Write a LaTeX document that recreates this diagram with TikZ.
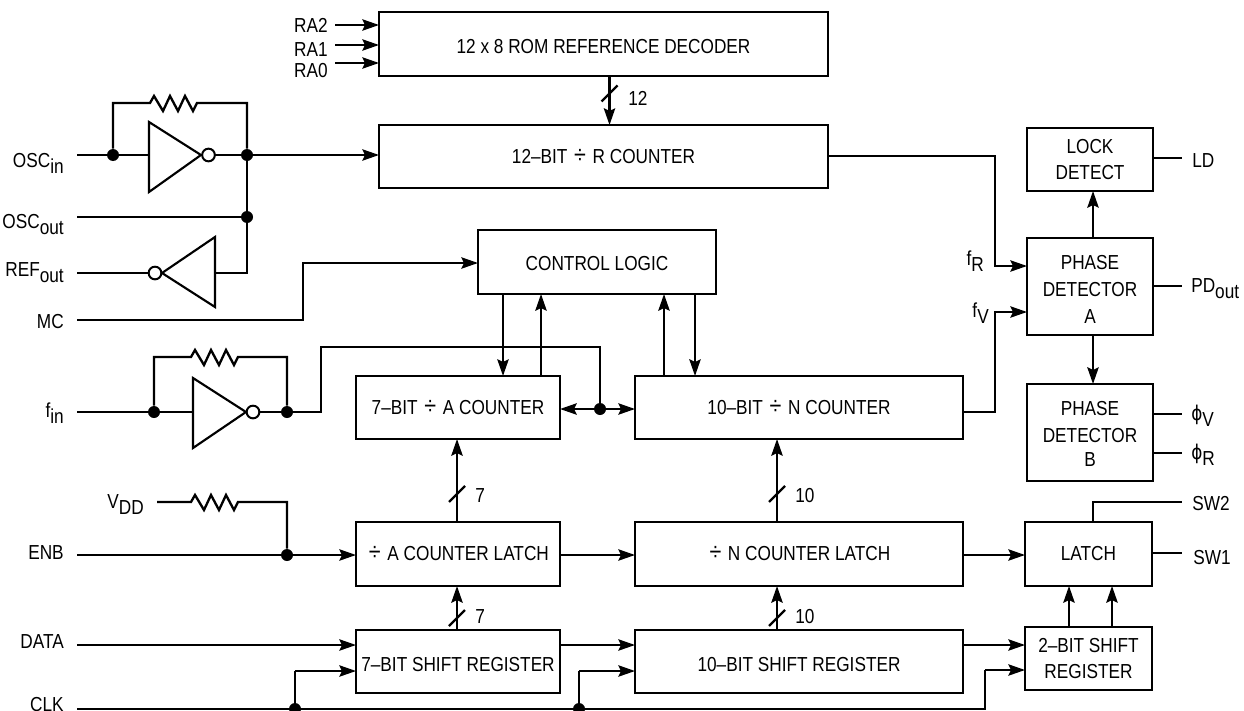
\documentclass[tikz,border=0pt]{standalone}
\usepackage{fontspec}
\setmainfont[FakeStretch=0.85]{Liberation Sans}
\newfontfamily\phifont[FakeStretch=0.83]{DejaVu Sans}
\usetikzlibrary{arrows.meta}
\newcommand\sbs[1]{\raisebox{-4.9pt}{#1}}
\newcommand\nd[2]{\raisebox{-#1}[\height][\depth]{#2}}
\newcommand\dv{\hspace{1.4pt}{\fontsize{19}{20}\selectfont ÷}\hspace{1.4pt}}
\newcommand\zig{-- ++(4,-7) -- ++(9,15) -- ++(7,-15) -- ++(8,15) -- ++(7,-15) -- ++(8,15) -- ++(4,-8)}
\newcommand\slashmark[1]{\draw[wire] ([shift={(-8,8)}]#1) -- ([shift={(8,-8)}]#1);}
\tikzset{
  x=0.75pt,y=-0.75pt,
  every node/.style={font=\fontsize{15.2}{20.2}\selectfont,text=black},
  wire/.style={line width=1.75pt,line join=miter,draw=black},
  tip/.tip={Stealth[length=12.5pt,width=8.5pt,inset=2pt]},
  arr/.style={wire,-tip},
  darr/.style={wire,tip-tip},
  blk/.style={draw=black,line width=1.9pt,inner sep=0pt,outer sep=0pt,align=center},
  dot/.style={circle,fill=black,draw=none,minimum size=9pt,inner sep=0pt},
  bub/.style={circle,fill=white,draw=black,line width=1.5pt,minimum size=9.5pt,inner sep=0pt,outer sep=0pt},
  inv/.style={line width=1.6pt,draw=black,line join=miter},
  lblr/.style={anchor=base east,inner sep=0pt,align=right},
  lbll/.style={anchor=base west,inner sep=0pt,align=left}
}
\newcommand\blk[6]{\node[blk,minimum width={(#4-#2)*0.75pt},minimum height={(#5-#3)*0.75pt}] (#1) at ({(#2+#4)/2},{(#3+#5)/2}) {#6};}
\begin{document}
\begin{tikzpicture}
\useasboundingbox (0,0) rectangle (1244,710);
% blocks
\blk{rom}{379}{12}{828}{76}{\nd{2pt}{12 x 8 ROM REFERENCE DECODER}}
\blk{rc}{379}{125}{828}{188}{12–BIT \dv{} R COUNTER}
\blk{ctl}{478}{230}{716}{294}{\nd{1.5pt}{CONTROL LOGIC}}
\blk{ac}{356}{376}{560}{439}{7–BIT \dv{} A COUNTER}
\blk{nc}{635}{376}{963}{439}{10–BIT \dv{} N COUNTER}
\blk{al}{356}{522}{560}{586}{\dv{} A COUNTER LATCH}
\blk{nl}{635}{522}{963}{586}{\dv{} N COUNTER LATCH}
\blk{as}{356}{630}{560}{693}{\nd{2pt}{7–BIT SHIFT REGISTER}}
\blk{ns}{635}{630}{963}{693}{\nd{2pt}{10–BIT SHIFT REGISTER}}
\blk{lock}{1027}{128}{1153}{191}{LOCK\\DETECT}
\blk{pa}{1027}{238}{1153}{335}{\nd{2pt}{PHASE}\\\nd{2pt}{DETECTOR}\\\nd{2pt}{A}}
\blk{pb}{1027}{384}{1153}{481}{\nd{2pt}{PHASE}\\\nd{2pt}{DETECTOR}\\B}
\blk{lat}{1025}{522}{1152}{586}{LATCH}
\blk{sr2}{1025}{627}{1152}{690}{2–BIT SHIFT\\REGISTER}
% left labels
\node[lblr] (lra2) at (328,33) {RA2};
\node[lblr] (lra1) at (328,57) {RA1};
\node[lblr] (lra0) at (328,77) {RA0};
\node[lblr] (losci) at (64,167) {OSC\sbs{in}};
\node[lblr] (losco) at (64,228) {OSC\sbs{out}};
\node[lblr] (lref) at (64,276) {REF\sbs{out}};
\node[lblr] (lmc) at (64,328) {MC};
\node[lblr] (lfin) at (64,417) {f\sbs{in}};
\node[lblr] (lvdd) at (144,508) {V\sbs{DD}};
\node[lblr] (lenb) at (64,559) {ENB};
\node[lblr] (ldata) at (64,648) {DATA};
\node[lblr] (lclk) at (64,711) {CLK};
% right labels
\node[lbll] (lld) at (1192,167) {LD};
\node[lbll] (lpd) at (1191,292) {PD\sbs{out}};
\node[lbll] (lpv) at (1191,420) {{\phifont ϕ}\sbs{V}};
\node[lbll] (lpr) at (1191,459) {{\phifont ϕ}\sbs{R}};
\node[lbll] (lsw2) at (1192,510) {SW2};
\node[lbll] (lsw1) at (1193,564) {SW1};
\node[lblr] (lfr) at (984,265) {f\sbs{R}};
\node[lblr] (lfv) at (989,317) {f\sbs{V}};
\node[lbll] (l12) at (628,105) {12};
\node[lbll] (l7a) at (475,502) {7};
\node[lbll] (l10a) at (795,502) {10};
\node[lbll] (l7b) at (475,623) {7};
\node[lbll] (l10b) at (795,623) {10};
% free ends
\coordinate (ra2) at (335,25);
\coordinate (ra1) at (335,45);
\coordinate (ra0) at (335,63);
\coordinate (osci) at (77,155);
\coordinate (osco) at (77,217);
\coordinate (ref) at (77,273);
\coordinate (mc) at (77,320);
\coordinate (fin) at (77,412);
\coordinate (enb) at (77,555);
\coordinate (data) at (77,645);
\coordinate (clk) at (77,709);
\coordinate (vdd) at (157,502);
\coordinate (ld) at (1182,158);
\coordinate (pd) at (1182,286);
\coordinate (pv) at (1182,414);
\coordinate (pr) at (1182,453);
\coordinate (sw2) at (1182,502);
\coordinate (sw1) at (1182,553);
% junctions
\node[dot] (j1) at (113,155) {};
\node[dot] (j2) at (247,155) {};
\node[dot] (j3) at (247,217) {};
\node[dot] (j4) at (154,412) {};
\node[dot] (j5) at (287,412) {};
\node[dot] (j6) at (600,409) {};
\node[dot] (j7) at (287,555) {};
\node[dot] (j8) at (295,709) {};
\node[dot] (j9) at (579,709) {};
% inverters
\coordinate (i1) at (149,155);
\draw[inv] (i1) -- (149,122) -- (201,155) -- (149,192) -- cycle;
\node[bub] (b1) at (208.5,155) {};
\coordinate (i2) at (215,273);
\draw[inv] (i2) -- (215,237) -- (162,273) -- (215,307) -- cycle;
\node[bub] (b2) at (155,273) {};
\coordinate (i3) at (193,412);
\draw[inv] (i3) -- (193,378) -- (246,412) -- (193,448) -- cycle;
\node[bub] (b3) at (253,412) {};
% wires: inputs
\draw[arr] (ra2) -- (ra2 -| rom.west);
\draw[arr] (ra1) -- (ra1 -| rom.west);
\draw[arr] (ra0) -- (ra0 -| rom.west);
\draw[wire] (osci) -- (i1);
\draw[wire] (b1) -- (j2);
\draw[arr] (j2) -- (j2 -| rc.west);
\draw[wire] (j1) -- (113,103) -- (150,103) \zig -- (247,103) -- (j2);
\draw[wire] (j2) -- (247,273) -- (i2);
\draw[wire] (osco) -- (j3);
\draw[wire] (ref) -- (b2);
\draw[arr] (mc) -| (303,263) -- (303,263 -| ctl.west);
\draw[wire] (fin) -- (i3);
\draw[wire] (b3) -- (j5);
\draw[wire] (j4) -- (154,357) -- (191,357) \zig -- (287,357) -- (j5);
\draw[wire] (j5) -- (321,412) -- (321,347) -- (600,347) -- (j6);
\draw[darr] (j6 -| ac.east) -- (j6 -| nc.west);
\draw[wire] (vdd) -- (191,502) \zig -- (287,502) -- (j7);
\draw[arr] (enb) -- (enb -| al.west);
\draw[arr] (data) -- (data -| as.west);
\draw[wire] (clk) -- (985,709) -- (985,670);
\draw[arr] (985,670) -- (985,670 -| sr2.west);
\draw[wire] (j8) -- (295,671);
\draw[arr] (295,671) -- (295,671 -| as.west);
\draw[wire] (j9) -- (579,671);
\draw[arr] (579,671) -- (579,671 -| ns.west);
% wires: between blocks
\coordinate (p12) at (609.5,93.5);
\draw[arr] (p12 |- rom.south) -- (p12 |- rc.north);
\slashmark{p12}
\draw[arr] (503,294) -- (503,376);
\draw[arr] (541,376) -- (541,294);
\draw[arr] (664,376) -- (664,294);
\draw[arr] (695,294) -- (695,376);
\coordinate (p7a) at (457,494);
\coordinate (p10a) at (777,494);
\coordinate (p7b) at (457,618);
\coordinate (p10b) at (777,618);
\draw[arr] (p7a |- al.north) -- (p7a |- ac.south);
\slashmark{p7a}
\draw[arr] (p10a |- nl.north) -- (p10a |- nc.south);
\slashmark{p10a}
\draw[arr] (p7b |- as.north) -- (p7b |- al.south);
\slashmark{p7b}
\draw[arr] (p10b |- ns.north) -- (p10b |- nl.south);
\slashmark{p10b}
\draw[arr] (al.east |- enb) -- (nl.west |- enb);
\draw[arr] (nl.east |- enb) -- (lat.west |- enb);
\draw[arr] (as.east |- data) -- (ns.west |- data);
\draw[arr] (ns.east |- data) -- (sr2.west |- data);
\draw[arr] (1069,627) -- (1069,586);
\draw[arr] (1112,627) -- (1112,586);
\draw[arr] (1093,238) -- (1093,191);
\draw[arr] (1093,335) -- (1093,384);
\draw[arr] (828,156) -- (995,156) -- (995,266) -- (1027,266);
\draw[arr] (963,412) -- (995,412) -- (995,312) -- (1027,312);
% outputs
\draw[wire] (lock.east |- ld) -- (ld);
\draw[wire] (pa.east |- pd) -- (pd);
\draw[wire] (pb.east |- pv) -- (pv);
\draw[wire] (pb.east |- pr) -- (pr);
\draw[wire] (1093,522) -- (1093,502) -- (sw2);
\draw[wire] (lat.east |- sw1) -- (sw1);
\end{tikzpicture}
\end{document}
